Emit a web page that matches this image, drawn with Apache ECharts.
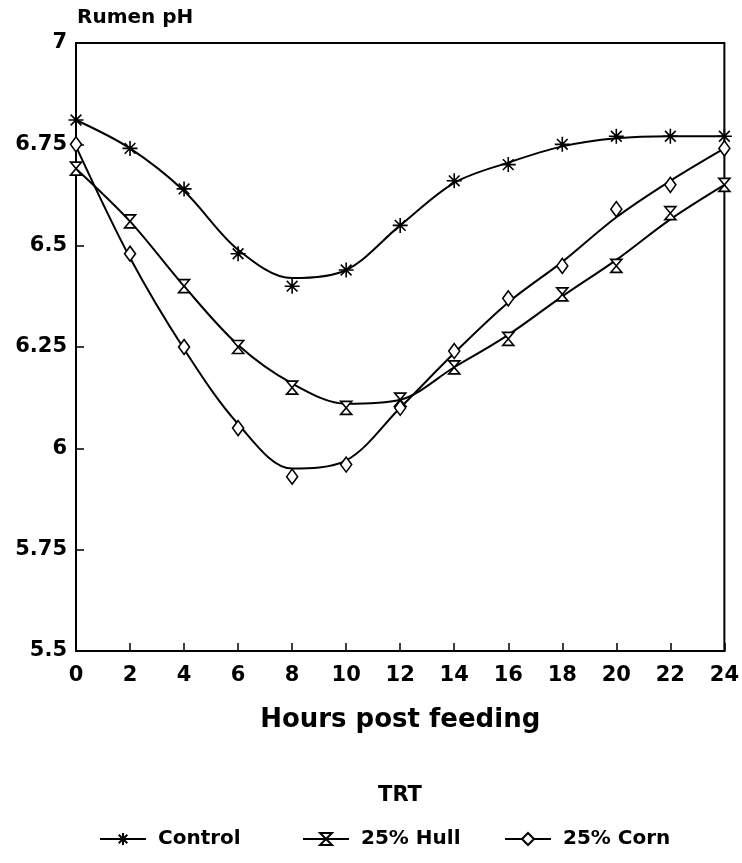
<!DOCTYPE html>
<html>
<head>
<meta charset="utf-8">
<script src="https://cdn.jsdelivr.net/npm/echarts@6/dist/echarts.min.js"></script>
<style>
html,body{margin:0;padding:0;background:#fff;}
#chart{width:742px;height:863px;}
</style>
</head>
<body>
<div id="chart"></div>
<script>
// ---- data ----
const hours = [0, 2, 4, 6, 8, 10, 12, 14, 16, 18, 20, 22, 24];
const yTicks = [5.5, 5.75, 6, 6.25, 6.5, 6.75, 7];
const seriesNames = ['Control', '25% Hull', '25% Corn'];
// observed means (markers)
const controlObs = [6.81, 6.74, 6.64, 6.48, 6.40, 6.44, 6.55, 6.66, 6.70, 6.75, 6.77, 6.77, 6.77];
const hullObs    = [6.69, 6.56, 6.40, 6.25, 6.15, 6.10, 6.12, 6.20, 6.27, 6.38, 6.45, 6.58, 6.65];
const cornObs    = [6.75, 6.48, 6.25, 6.05, 5.93, 5.96, 6.10, 6.24, 6.37, 6.45, 6.59, 6.65, 6.74];
// fitted curves (at each hour)
const controlFit = [6.81, 6.74, 6.635, 6.49, 6.42, 6.44, 6.55, 6.655, 6.705, 6.745, 6.765, 6.77, 6.77];
const hullFit    = [6.69, 6.56, 6.40, 6.255, 6.16, 6.11, 6.12, 6.20, 6.28, 6.375, 6.465, 6.565, 6.65];
const cornFit    = [6.745, 6.47, 6.245, 6.06, 5.95, 5.97, 6.10, 6.235, 6.36, 6.46, 6.57, 6.66, 6.74];

const pair = (xs, ys) => xs.map((x, i) => [x, ys[i]]);

const FONT = '"DejaVu Sans", sans-serif';
const starPath = 'path://M0,-7L0,7M-7,0L7,0M-5,-5L5,5M-5,5L5,-5';
const hourglassPath = 'path://M-5,-6L5,-6L-5,6L5,6Z';

const markers = [
  { symbol: starPath, size: 15, fill: 'none' },
  { symbol: hourglassPath, size: [11, 13], fill: '#fff' },
  { symbol: 'diamond', size: [11, 15], fill: '#fff' }
];
const obs = [controlObs, hullObs, cornObs];
const fits = [controlFit, hullFit, cornFit];

const series = [];
seriesNames.forEach((name, k) => {
  series.push({
    name: name,
    type: 'line',
    data: pair(hours, fits[k]),
    smooth: 0.33,
    showSymbol: false,
    symbol: markers[k].symbol,
    symbolSize: markers[k].size,
    lineStyle: { color: '#000', width: 2 },
    itemStyle: { color: markers[k].fill, borderColor: '#000', borderWidth: 1.5 },
    z: 2,
    silent: true,
    animation: false
  });
  series.push({
    name: name,
    type: 'scatter',
    data: pair(hours, obs[k]),
    symbol: markers[k].symbol,
    symbolSize: markers[k].size,
    itemStyle: { color: markers[k].fill, borderColor: '#000', borderWidth: 1.6, opacity: 1 },
    z: 3,
    animation: false
  });
});

const legendLefts = [99, 302, 504];
const legends = seriesNames.map((name, k) => ({
  data: [name],
  left: legendLefts[k],
  top: 829,
  padding: 0,
  itemWidth: 46,
  itemHeight: 15,
  selectedMode: false,
  textStyle: { fontFamily: FONT, fontWeight: 'bold', fontSize: 20, color: '#000', padding: [0, 0, 0, 7] }
}));

const chart = echarts.init(document.getElementById('chart'), null, { renderer: 'canvas' });
chart.setOption({
  backgroundColor: '#fff',
  animation: false,
  grid: {
    left: 76, right: 16, top: 43, bottom: 212,
    show: true, borderColor: '#000', borderWidth: 2, backgroundColor: 'transparent'
  },
  xAxis: {
    type: 'value',
    min: 0, max: 24, interval: 2,
    name: 'Hours post feeding',
    nameLocation: 'middle',
    nameGap: 56,
    nameTextStyle: { fontFamily: FONT, fontWeight: 'bold', fontSize: 26, color: '#000' },
    axisLine: { show: true, lineStyle: { color: '#000', width: 2 } },
    axisTick: { show: true, inside: true, length: 8, lineStyle: { color: '#000', width: 1.5 } },
    axisLabel: { margin: 14, fontFamily: FONT, fontWeight: 'bold', fontSize: 21, color: '#000' },
    splitLine: { show: false }
  },
  yAxis: {
    type: 'value',
    min: yTicks[0], max: yTicks[yTicks.length - 1], interval: 0.25,
    axisLine: { show: true, lineStyle: { color: '#000', width: 2 } },
    axisTick: { show: true, inside: true, length: 8, lineStyle: { color: '#000', width: 1.5 } },
    axisLabel: { margin: 9, fontFamily: FONT, fontWeight: 'bold', fontSize: 21, color: '#000' },
    splitLine: { show: false }
  },
  legend: legends,
  graphic: [
    { type: 'text', left: 77, top: 8, style: { text: 'Rumen pH', font: 'bold 20px ' + FONT, fill: '#000' } },
    { type: 'text', x: 400, y: 796, style: { text: 'TRT', font: 'bold 21px ' + FONT, fill: '#000', align: 'center', verticalAlign: 'middle' } }
  ],
  series: series
});
</script>
</body>
</html>
